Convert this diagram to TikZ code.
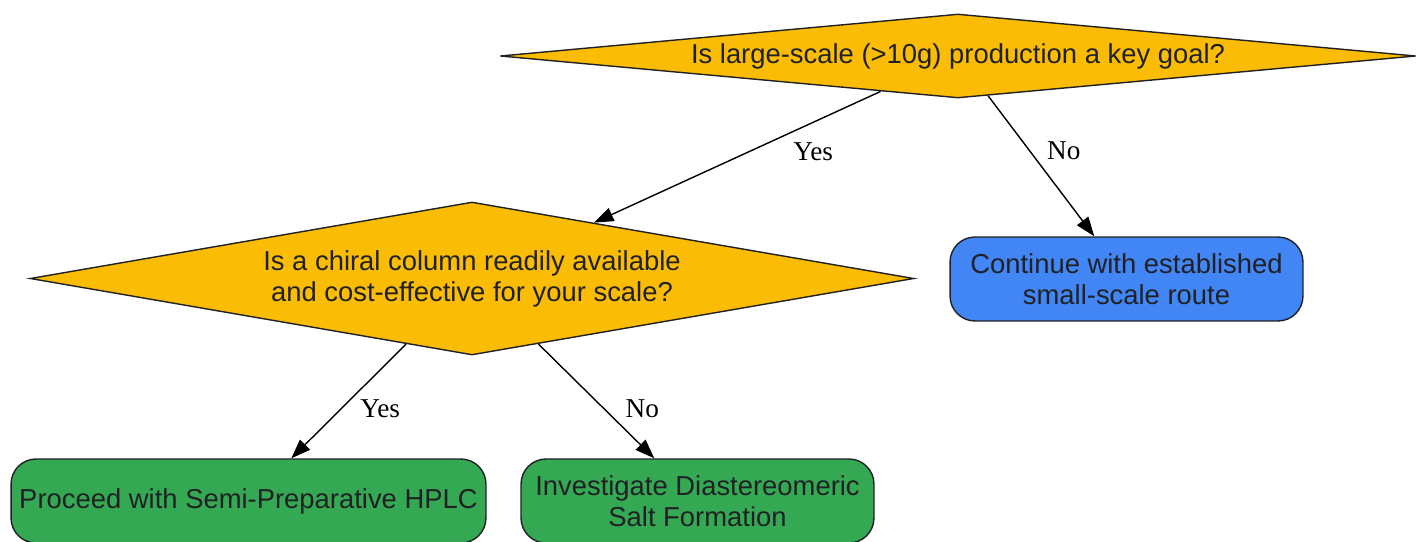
\documentclass[tikz,border=0pt]{standalone}
\usepackage{fontspec}
\setmainfont{Liberation Sans}
\newfontfamily\labelfont{Liberation Serif}
\usepackage{xcolor}
\usepackage{tikz}
\usetikzlibrary{shapes.geometric, arrows.meta}
\definecolor{askyellow}{HTML}{FBBC05}
\definecolor{stayblue}{HTML}{4285F4}
\definecolor{gogreen}{HTML}{34A853}
\definecolor{inkgray}{HTML}{202124}
\tikzstyle{question} = [diamond, draw=inkgray, line width=0.8pt, fill=askyellow, text=inkgray, align=center, inner sep=0pt, font=\fontsize{15.6}{17.6}\selectfont]
\tikzstyle{outcome} = [rectangle, rounded corners=0.5cm, draw=inkgray, line width=0.8pt, minimum height=1.68cm, text=inkgray, align=center, font=\fontsize{15.6}{17.6}\selectfont]
\tikzstyle{arrow} = [line width=0.8pt, -{Triangle[length=11pt,width=8pt]}]
\tikzstyle{answer} = [anchor=west, inner sep=0pt, font=\labelfont\fontsize{15.5}{18}\selectfont]

\begin{document}
\begin{tikzpicture}[x=0.02cm, y=-0.02cm]
\useasboundingbox (0,0) rectangle (1416,541);

% decisions
\node [question, shape aspect=10.9, minimum width=18.32cm, minimum height=1.68cm] (scale) at (958,56) {Is large-scale (>10g) production a key goal?};
\node [question, shape aspect=5.78, minimum width=17.68cm, minimum height=3.06cm] (column) at (472,278.5) {Is a chiral column readily available\\ and cost-effective for your scale?};

% outcomes
\node [outcome, fill=stayblue, minimum width=7.06cm] (smallroute) at (1126.5,279) {Continue with established\\small-scale route};
\node [outcome, fill=gogreen, minimum width=9.5cm] (hplc) at (248.5,501) {Proceed with Semi-Preparative HPLC};
\node [outcome, fill=gogreen, minimum width=7.06cm] (saltform) at (697.5,501) {Investigate Diastereomeric\\Salt Formation};

% edges
\draw [arrow] (scale) -- node [answer, pos=0.46, xshift=0.88cm] {Yes} (column);
\draw [arrow] (scale) -- node [answer, pos=0.39, xshift=0.34cm] {No} (smallroute);
\draw [arrow] (column) -- node [answer, pos=0.565, xshift=0.37cm] {Yes} (hplc);
\draw [arrow] (column) -- node [answer, pos=0.565, xshift=0.42cm] {No} (saltform);
\end{tikzpicture}
\end{document}
